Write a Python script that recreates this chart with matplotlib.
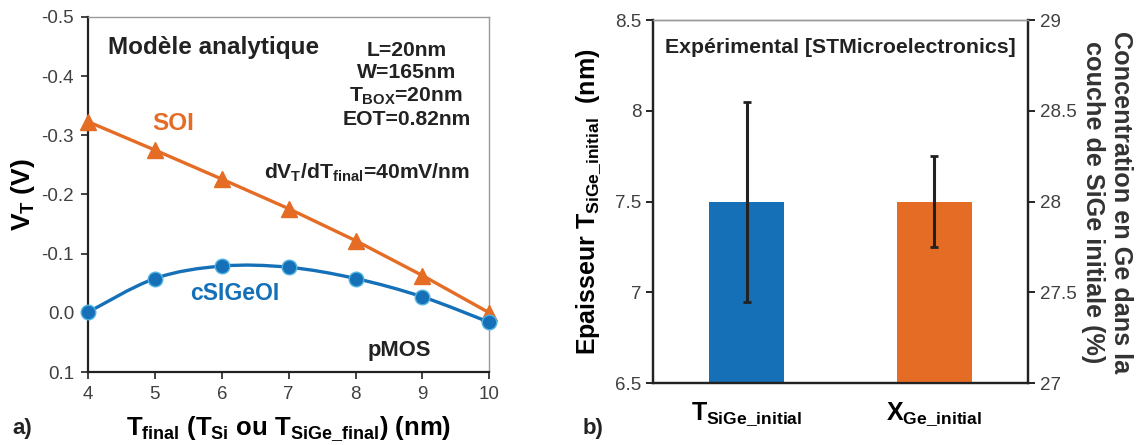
import numpy as np
import matplotlib.pyplot as plt
from matplotlib.path import Path
from matplotlib.patches import PathPatch

plt.rcParams['font.family'] = 'Liberation Sans'
plt.rcParams['mathtext.fontset'] = 'custom'
plt.rcParams['mathtext.rm'] = 'Liberation Sans:bold'
plt.rcParams['mathtext.it'] = 'Liberation Sans:bold'
plt.rcParams['mathtext.bf'] = 'Liberation Sans:bold'

# donnees panneau a)
t_final = [4, 5, 6, 7, 8, 9, 10]
vt_soi = [-0.323, -0.275, -0.226, -0.176, -0.122, -0.063, 0.0]
vt_sige = [-0.001, -0.058, -0.079, -0.077, -0.058, -0.027, 0.016]

# donnees panneau b)
bar_labels = [r'$T_{SiGe\_initial}$', r'$X_{Ge\_initial}$']
t_sige_init = 7.5
t_sige_err = 0.55
x_ge_init = 28.0
x_ge_err = 0.25

bleu = '#1570B8'
orange = '#E46C25'
gris = '#404040'
noir = '#222222'

fig = plt.figure(figsize=(11.37, 4.45), dpi=100)

# ---------- a) ----------
ax = fig.add_axes([0.0774, 0.164, 0.353, 0.798])
ax.plot(t_final, vt_soi, '-', color=orange, lw=2.4, marker='^', ms=11, zorder=3, clip_on=False)

# courbe lissee (type Excel) pour cSiGeOI
x = np.array(t_final, float)
y = np.array(vt_sige, float)
xp = np.concatenate([[x[0]], x, [x[-1]]])
yp = np.concatenate([[y[0]], y, [y[-1]]])
verts = [(x[0], y[0])]
codes = [Path.MOVETO]
for i in range(len(x) - 1):
    c1 = (x[i] + (xp[i + 2] - xp[i]) / 6, y[i] + (yp[i + 2] - yp[i]) / 6)
    c2 = (x[i + 1] - (xp[i + 3] - xp[i + 1]) / 6, y[i + 1] - (yp[i + 3] - yp[i + 1]) / 6)
    verts += [c1, c2, (x[i + 1], y[i + 1])]
    codes += [Path.CURVE4] * 3
ax.add_patch(PathPatch(Path(verts, codes), fc='none', ec=bleu, lw=2.4, zorder=3))
ax.plot(t_final, vt_sige, 'o', color=bleu, mec='#4FB3E0', mew=1, ms=10.5, zorder=4, clip_on=False)

ax.set_xlim(4, 10)
ax.set_ylim(0.1, -0.5)
ax.set_xticks(t_final)
ax.set_yticks([0.1, 0.0, -0.1, -0.2, -0.3, -0.4, -0.5])
ax.set_yticklabels(['0.1', '0.0', '-0.1', '-0.2', '-0.3', '-0.4', '-0.5'])
ax.tick_params(direction='out', length=5, width=1.2, labelsize=13.5, colors=noir, labelcolor=gris)
ax.tick_params(axis='x', pad=5)
ax.tick_params(axis='y', pad=5)
for s in ['left', 'bottom']:
    ax.spines[s].set_linewidth(1.6)
    ax.spines[s].set_color(noir)
for s in ['top', 'right']:
    ax.spines[s].set_linewidth(1)
    ax.spines[s].set_color('#999999')

ax.set_ylabel(r'$V_T$ (V)', fontsize=19, fontweight='bold', va='center', ha='center')
ax.yaxis.set_label_coords(-0.162, 0.5)
ax.set_xlabel(r'$T_{final}$ ($T_{Si}$ ou $T_{SiGe\_final}$) (nm)', fontsize=18.5, fontweight='bold', labelpad=8)

ax.text(0.312, 0.915, 'Modèle analytique', transform=ax.transAxes, fontsize=17.5, fontweight='bold',
        ha='center', va='center', color=noir)
ax.text(0.793, 0.808, 'L=20nm\nW=165nm\n' + r'$T_{BOX}$=20nm' + '\nEOT=0.82nm', transform=ax.transAxes,
        fontsize=15.2, fontweight='bold', ha='center', va='center', color=noir, linespacing=1.2)
ax.text(0.212, 0.70, 'SOI', transform=ax.transAxes, fontsize=17.5, fontweight='bold', color=orange,
        ha='center', va='center')
ax.text(0.365, 0.222, 'cSIGeOI', transform=ax.transAxes, fontsize=16.6, fontweight='bold', color=bleu,
        ha='center', va='center')
ax.text(0.953, 0.56, r'd$V_T$/d$T_{final}$=40mV/nm', transform=ax.transAxes, fontsize=15.2,
        fontweight='bold', ha='right', va='center', color=noir)
ax.text(0.776, 0.062, 'pMOS', transform=ax.transAxes, fontsize=15.8, fontweight='bold',
        ha='center', va='center', color=noir)
fig.text(0.011, 0.025, 'a)', fontsize=16, fontweight='bold', color=noir)

# ---------- b) ----------
bx = fig.add_axes([0.5743, 0.1387, 0.3298, 0.8163])
bx2 = bx.twinx()
bx.bar(0, t_sige_init, width=0.4, color=bleu, yerr=t_sige_err, capsize=3,
       error_kw=dict(ecolor=noir, elinewidth=2.2, capthick=2), zorder=2)
bx2.bar(1, x_ge_init, width=0.4, color=orange, yerr=x_ge_err, capsize=3,
        error_kw=dict(ecolor=noir, elinewidth=2.2, capthick=2), zorder=2)
bx.set_xlim(-0.5, 1.5)
bx.set_ylim(6.5, 8.5)
bx2.set_ylim(27, 29)
bx.set_yticks([6.5, 7, 7.5, 8, 8.5])
bx.set_yticklabels(['6.5', '7', '7.5', '8', '8.5'])
bx2.set_yticks([27, 27.5, 28, 28.5, 29])
bx2.set_yticklabels(['27', '27.5', '28', '28.5', '29'])
bx.set_xticks([0, 1])
bx.set_xticklabels(bar_labels, fontsize=18)
bx.tick_params(axis='x', length=0, pad=12)
bx.tick_params(axis='y', direction='out', length=5, width=1.2, labelsize=13.5, labelcolor=gris)
bx2.tick_params(axis='y', direction='out', length=5, width=1.2, labelsize=13.5, labelcolor=gris)
for a in [bx, bx2]:
    for s in ['left', 'bottom', 'right']:
        a.spines[s].set_linewidth(1.6)
        a.spines[s].set_color(noir)
    a.spines['top'].set_linewidth(1)
    a.spines['top'].set_color('#999999')

bx.set_ylabel(r'Epaisseur $T_{SiGe\_initial}$  (nm)', fontsize=18, fontweight='bold',
              va='center', ha='center')
bx.yaxis.set_label_coords(-0.171, 0.5)
bx2.set_ylabel('Concentration en Ge dans la\ncouche de SiGe initiale (%)', fontsize=18.2,
               fontweight='bold', rotation=270, color='#333333', linespacing=1.2,
               va='center', ha='center')
bx2.yaxis.set_label_coords(1.21, 0.5)
bx.text(0.5, 0.925, 'Expérimental [STMicroelectronics]', transform=bx.transAxes, fontsize=15.3,
        fontweight='bold', ha='center', va='center', color=noir)
fig.text(0.512, 0.025, 'b)', fontsize=16, fontweight='bold', color=noir)

fig.savefig('out.png', dpi=100)
